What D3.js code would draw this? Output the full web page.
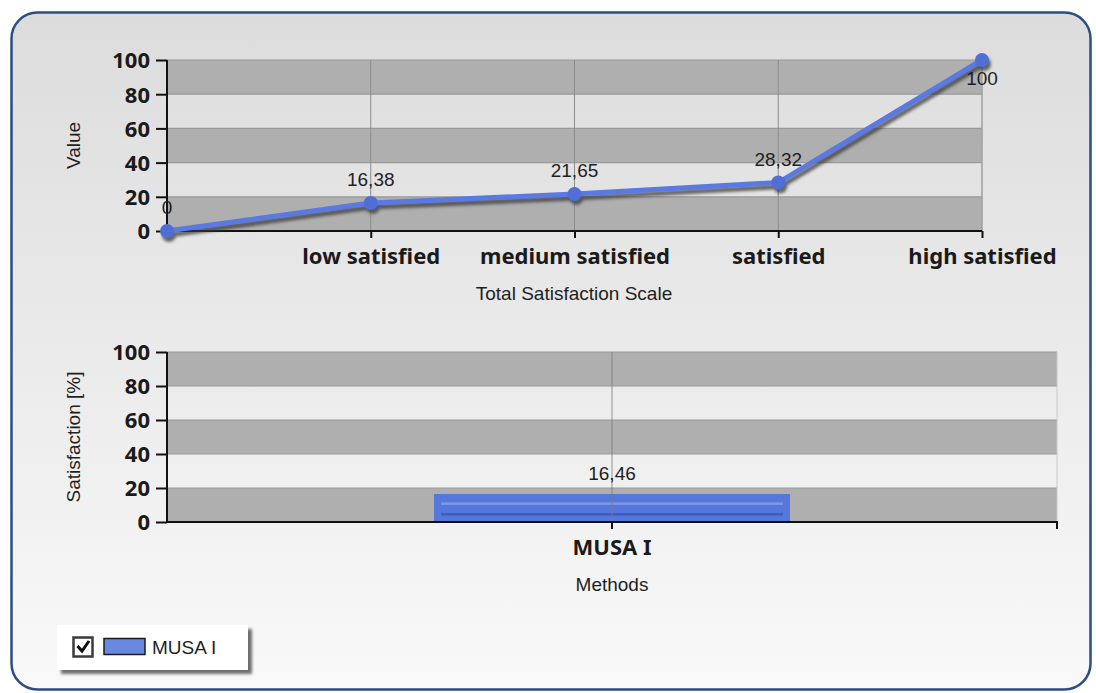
<!DOCTYPE html>
<html>
<head>
<meta charset="utf-8">
<script src="https://cdn.jsdelivr.net/npm/d3@7"></script>
<style>
  html, body { margin: 0; padding: 0; background: #ffffff; }
  svg { display: block; }
  .small { font-family: "Liberation Sans", Arial, sans-serif; font-size: 19px; fill: #1e1e1e; }
  .bold { font-family: "Noto Sans", "DejaVu Sans", sans-serif; font-weight: bold; font-size: 22px; fill: #1a1a1a; }
</style>
</head>
<body>
<script>
// Satisfaction scale (line chart)
const scaleLabels = ["", "low satisfied", "medium satisfied", "satisfied", "high satisfied"];
const scaleValues = [0, 16.38, 21.65, 28.32, 100];

// Method results (bar chart)
const methods = ["MUSA I"];
const methodValues = [16.46];
const seriesName = "MUSA I";

// Shared value axis
const yTicks = [0, 20, 40, 60, 80, 100];
const yDomain = [0, 100];

const W = 1096, H = 693;
const fmt = d3.formatLocale({ decimal: ",", thousands: ".", grouping: [3], currency: ["", ""] }).format(".2~f");

const svg = d3.select("body").append("svg").attr("width", W).attr("height", H);
const defs = svg.append("defs");

const bg = defs.append("linearGradient").attr("id", "panelBg")
  .attr("x1", 0).attr("y1", 0).attr("x2", 0).attr("y2", 1);
bg.append("stop").attr("offset", "0%").attr("stop-color", "#dcdcdc");
bg.append("stop").attr("offset", "100%").attr("stop-color", "#f9f9f9");

const blur = defs.append("filter").attr("id", "soft").attr("x", "-10%").attr("y", "-10%").attr("width", "120%").attr("height", "130%");
blur.append("feGaussianBlur").attr("stdDeviation", 1.6);

const boxShadow = defs.append("filter").attr("id", "boxShadow").attr("x", "-10%").attr("y", "-20%").attr("width", "130%").attr("height", "160%");
boxShadow.append("feGaussianBlur").attr("stdDeviation", 1.5);

// Outer panel
svg.append("rect")
  .attr("x", 11.5).attr("y", 12.5).attr("width", 1079).attr("height", 677)
  .attr("rx", 26).attr("ry", 26)
  .attr("fill", "url(#panelBg)")
  .attr("stroke", "#2d4f80").attr("stroke-width", 2.5);

// Alternating value bands + grid
function drawBands(g, x0, x1, y) {
  const bands = d3.pairs(yTicks);
  g.selectAll(".band").data(bands).join("rect")
    .attr("x", x0).attr("width", x1 - x0)
    .attr("y", d => y(d[1])).attr("height", d => y(d[0]) - y(d[1]))
    .attr("fill", (d, i) => i % 2 === 0 ? "#afafaf" : "none");
  g.selectAll(".hgrid").data(yTicks).join("line")
    .attr("x1", x0).attr("x2", x1)
    .attr("y1", d => y(d)).attr("y2", d => y(d))
    .attr("stroke", "#9a9a9a").attr("stroke-width", 1.2);
  g.append("line").attr("x1", x1).attr("x2", x1).attr("y1", y(100)).attr("y2", y(0))
    .attr("stroke", "#c8c8c8").attr("stroke-width", 1);
}

function drawYAxis(g, x0, y) {
  const ax = g.append("g").attr("transform", `translate(${x0},0)`)
    .call(d3.axisLeft(y).tickValues(yTicks).tickSize(11).tickPadding(6).tickFormat(d3.format("d")));
  ax.select(".domain").attr("stroke", "#111").attr("stroke-width", 2).attr("d", `M0,${y(100)}V${y(0)}`);
  ax.selectAll(".tick line").attr("stroke", "#111").attr("stroke-width", 2);
  ax.selectAll(".tick text").attr("class", "bold").attr("font-size", null).attr("font-family", null)
    .attr("dy", "0.36em");
}

// ---------- Top: satisfaction scale line chart ----------
const pTop = { x0: 167, x1: 982, y0: 60, y1: 231 };
const xTop = d3.scalePoint().domain(scaleLabels).range([pTop.x0, pTop.x1]);
const yTop = d3.scaleLinear().domain(yDomain).range([pTop.y1, pTop.y0]);
const gTop = svg.append("g");

drawBands(gTop, pTop.x0, pTop.x1, yTop);
gTop.selectAll(".vgrid").data(scaleLabels.filter(d => d !== "")).join("line")
  .attr("x1", d => xTop(d)).attr("x2", d => xTop(d))
  .attr("y1", pTop.y0).attr("y2", pTop.y1)
  .attr("stroke", "#8c8c8c").attr("stroke-width", 1);

drawYAxis(gTop, pTop.x0, yTop);

const xAxTop = gTop.append("g").attr("transform", `translate(0,${pTop.y1})`)
  .call(d3.axisBottom(xTop).tickSize(7).tickPadding(9));
xAxTop.select(".domain").attr("stroke", "#111").attr("stroke-width", 2).attr("d", `M${pTop.x0},0H${pTop.x1}`);
xAxTop.selectAll(".tick line").attr("stroke", "#111").attr("stroke-width", 2)
  .attr("display", d => d === "" ? "none" : null);
xAxTop.selectAll(".tick text").attr("class", "bold").attr("font-size", null).attr("font-family", null)
  .attr("dy", "0.78em");

const line = d3.line().x((d, i) => xTop(scaleLabels[i])).y(d => yTop(d));

// shadow under the line and markers
const shadow = gTop.append("g").attr("transform", "translate(2,4)").attr("filter", "url(#soft)").attr("opacity", 0.75);
shadow.append("path").datum(scaleValues).attr("d", line)
  .attr("fill", "none").attr("stroke", "#3a3a3a").attr("stroke-width", 5).attr("stroke-linejoin", "round");
shadow.selectAll("circle").data(scaleValues).join("circle")
  .attr("cx", (d, i) => xTop(scaleLabels[i])).attr("cy", d => yTop(d)).attr("r", 7).attr("fill", "#3a3a3a");

gTop.append("path").datum(scaleValues).attr("d", line)
  .attr("fill", "none").attr("stroke", "#5b79e2").attr("stroke-width", 5).attr("stroke-linejoin", "round");
gTop.selectAll(".pt").data(scaleValues).join("circle")
  .attr("cx", (d, i) => xTop(scaleLabels[i])).attr("cy", d => yTop(d)).attr("r", 7)
  .attr("fill", "#4f6fd6");

gTop.selectAll(".lbl").data(scaleValues).join("text")
  .attr("class", "small").attr("text-anchor", "middle")
  .attr("x", (d, i) => xTop(scaleLabels[i]))
  .attr("y", d => yTop(d) - 17 < pTop.y0 ? yTop(d) + 25 : yTop(d) - 17)
  .text(d => fmt(d));

svg.append("text").attr("class", "small").attr("text-anchor", "middle")
  .attr("x", (pTop.x0 + pTop.x1) / 2 - 0.5).attr("y", 300).text("Total Satisfaction Scale");
svg.append("text").attr("class", "small").attr("text-anchor", "middle")
  .attr("transform", `translate(80,${(pTop.y0 + pTop.y1) / 2}) rotate(-90)`).text("Value");

// ---------- Bottom: method bar chart ----------
const pBot = { x0: 167, x1: 1057, y0: 352, y1: 522 };
const xBot = d3.scaleBand().domain(methods).range([pBot.x0, pBot.x1]).padding(0);
const yBot = d3.scaleLinear().domain(yDomain).range([pBot.y1, pBot.y0]);
const gBot = svg.append("g");

drawBands(gBot, pBot.x0, pBot.x1, yBot);
drawYAxis(gBot, pBot.x0, yBot);

const barW = xBot.bandwidth() * 0.4;
const bars = gBot.selectAll(".bar").data(methodValues).join("g");
bars.append("rect")
  .attr("x", (d, i) => xBot(methods[i]) + xBot.bandwidth() / 2 - barW / 2)
  .attr("y", d => yBot(d)).attr("width", barW).attr("height", d => yBot(0) - yBot(d))
  .attr("fill", "#5577db");
bars.append("rect")
  .attr("x", (d, i) => xBot(methods[i]) + xBot.bandwidth() / 2 - barW / 2 + 7)
  .attr("y", d => yBot(d) + (yBot(0) - yBot(d)) * 0.3).attr("width", barW - 14)
  .attr("height", 2.5).attr("fill", "#7e97e6");
bars.append("rect")
  .attr("x", (d, i) => xBot(methods[i]) + xBot.bandwidth() / 2 - barW / 2 + 7)
  .attr("y", d => yBot(d) + (yBot(0) - yBot(d)) * 0.68).attr("width", barW - 14)
  .attr("height", 2.5).attr("fill", "#3f5dbb");

gBot.selectAll(".vgrid").data(methods).join("line")
  .attr("x1", d => xBot(d) + xBot.bandwidth() / 2).attr("x2", d => xBot(d) + xBot.bandwidth() / 2)
  .attr("y1", pBot.y0).attr("y2", pBot.y1)
  .attr("stroke", "#7a7a7a").attr("stroke-width", 1).attr("opacity", 0.8);

gBot.selectAll(".blbl").data(methodValues).join("text")
  .attr("class", "small").attr("text-anchor", "middle")
  .attr("x", (d, i) => xBot(methods[i]) + xBot.bandwidth() / 2)
  .attr("y", d => yBot(d) - 14).text(d => fmt(d));

const xAxBot = gBot.append("g").attr("transform", `translate(0,${pBot.y1})`)
  .call(d3.axisBottom(xBot).tickSize(7).tickPadding(9));
xAxBot.select(".domain").attr("stroke", "#111").attr("stroke-width", 2).attr("d", `M${pBot.x0},0H${pBot.x1}V7`);
xAxBot.selectAll(".tick line").attr("stroke", "#111").attr("stroke-width", 2);
xAxBot.selectAll(".tick text").attr("class", "bold").attr("font-size", null).attr("font-family", null)
  .attr("dy", "0.78em");

svg.append("text").attr("class", "small").attr("text-anchor", "middle")
  .attr("x", (pBot.x0 + pBot.x1) / 2).attr("y", 591).text("Methods");
svg.append("text").attr("class", "small").attr("text-anchor", "middle")
  .attr("transform", `translate(80,${(pBot.y0 + pBot.y1) / 2}) rotate(-90)`).text("Satisfaction [%]");

// ---------- Legend ----------
const lg = svg.append("g").attr("transform", "translate(57,625)");
lg.append("rect").attr("x", 4).attr("y", 4).attr("width", 191).attr("height", 45)
  .attr("fill", "#6e6e6e").attr("filter", "url(#boxShadow)");
lg.append("rect").attr("width", 191).attr("height", 45).attr("fill", "#ffffff");
lg.append("rect").attr("x", 16.5).attr("y", 12.5).attr("width", 19).attr("height", 19)
  .attr("fill", "#ffffff").attr("stroke", "#3a3a3a").attr("stroke-width", 2.5);
lg.append("path").attr("d", "M20.5,21 L25,26 L32,16")
  .attr("fill", "none").attr("stroke", "#111").attr("stroke-width", 3);
lg.append("rect").attr("x", 47).attr("y", 13.5).attr("width", 41).attr("height", 16)
  .attr("fill", "#6a88e2").attr("stroke", "#1b1b1b").attr("stroke-width", 1.5);
lg.append("text").attr("class", "small").attr("x", 95).attr("y", 29).text(seriesName);
</script>
</body>
</html>
